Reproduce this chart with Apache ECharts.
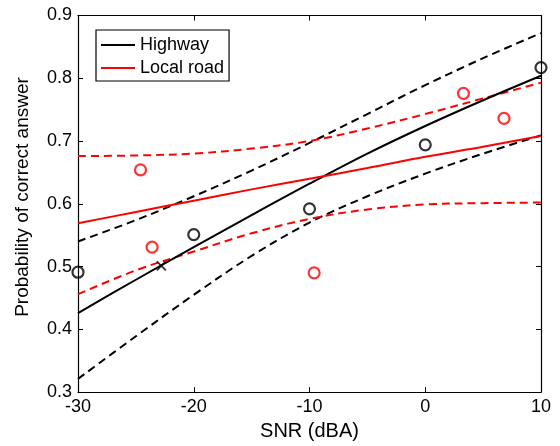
<!DOCTYPE html>
<html>
<head>
<meta charset="utf-8">
<script src="https://cdn.jsdelivr.net/npm/echarts@6/dist/echarts.min.js"></script>
<style>
  html, body { margin: 0; padding: 0; background: #fff; }
  #chart { width: 560px; height: 446px; }
</style>
</head>
<body>
<div id="chart"></div>
<script>
// SNR grid (dBA) at which the fitted curves are sampled
const snrGrid = [-30, -25, -20, -15, -10, -5, 0, 5, 10];

// Highway: fitted probability and its confidence bounds
const highwayFit   = [0.426, 0.479, 0.531, 0.582, 0.632, 0.680, 0.724, 0.765, 0.804];
const highwayUpper = [0.540, 0.574, 0.612, 0.653, 0.697, 0.743, 0.789, 0.832, 0.872];
const highwayLower = [0.321, 0.389, 0.455, 0.517, 0.570, 0.612, 0.648, 0.680, 0.709];

// Local road: fitted probability and its confidence bounds
const localFit   = [0.569, 0.587, 0.605, 0.623, 0.640, 0.657, 0.675, 0.691, 0.708];
const localUpper = [0.676, 0.677, 0.680, 0.688, 0.700, 0.720, 0.743, 0.768, 0.793];
const localLower = [0.456, 0.494, 0.524, 0.553, 0.576, 0.591, 0.599, 0.601, 0.602];

// Observed proportions
const highwaySnr  = [-30, -20, -10, 0, 10];
const highwayProb = [0.491, 0.551, 0.592, 0.694, 0.817];
const localSnr    = [-24.6, -23.6, -9.6, 3.3, 6.8];
const localProb   = [0.654, 0.531, 0.490, 0.776, 0.736];

// 50 % threshold of the highway fit
const thresholdSnr  = [-22.8];
const thresholdProb = [0.501];

// Axis settings
const xTicks = { min: -30, max: 10, step: 10 };
const yTicks = { min: 0.3, max: 0.9, step: 0.1 };

const FONT = 'Liberation Sans, Arial, Helvetica, sans-serif';
const zip = (xs, ys) => xs.map((x, i) => [x, ys[i]]);

function curve(name, xs, ys, color, dashed) {
  return {
    name: name,
    type: 'line',
    data: zip(xs, ys),
    smooth: 0.35,
    symbol: 'none',
    silent: true,
    lineStyle: { color: color, width: 2, type: dashed ? [8, 5] : 'solid' },
    itemStyle: { color: color },
    z: dashed ? 2 : 3
  };
}

function markers(name, xs, ys, color) {
  return {
    name: name,
    type: 'scatter',
    data: zip(xs, ys),
    symbol: 'circle',
    symbolSize: 11,
    silent: true,
    itemStyle: { color: 'rgba(0,0,0,0)', borderColor: color, borderWidth: 2.2 },
    z: 4
  };
}

const axisCommon = {
  type: 'value',
  axisLine: { show: true, onZero: false, lineStyle: { color: '#000', width: 1.2 } },
  axisTick: { show: true, inside: true, length: 5, lineStyle: { color: '#000', width: 1 } },
  splitLine: { show: false }
};

const chart = echarts.init(document.getElementById('chart'), null, { renderer: 'canvas' });
chart.setOption({
  animation: false,
  backgroundColor: '#fff',
  grid: { left: 78, right: 19, top: 15.5, bottom: 52.5 },
  xAxis: [
    Object.assign({}, axisCommon, {
      position: 'bottom', min: xTicks.min, max: xTicks.max, interval: xTicks.step,
      axisLabel: { show: true, margin: 6, color: '#000', fontSize: 18, fontFamily: FONT },
      name: 'SNR (dBA)', nameLocation: 'middle', nameGap: 24,
      nameTextStyle: { color: '#000', fontSize: 20, fontFamily: FONT }
    }),
    Object.assign({}, axisCommon, {
      position: 'top', min: xTicks.min, max: xTicks.max, interval: xTicks.step,
      axisLabel: { show: false }
    })
  ],
  yAxis: [
    Object.assign({}, axisCommon, {
      position: 'left', min: yTicks.min, max: yTicks.max, interval: yTicks.step,
      axisLabel: { show: true, margin: 6, color: '#000', fontSize: 18, fontFamily: FONT,
        formatter: v => v.toFixed(1) }
    }),
    Object.assign({}, axisCommon, {
      position: 'right', min: yTicks.min, max: yTicks.max, interval: yTicks.step,
      axisLabel: { show: false }
    })
  ],
  legend: {
    orient: 'vertical',
    left: 96, top: 30,
    padding: [6, 5, 4, 5],
    itemWidth: 34, itemHeight: 2, itemGap: 5,
    backgroundColor: '#fff',
    borderColor: '#000', borderWidth: 1.2, borderRadius: 0,
    data: [{ name: 'Highway', icon: 'rect' }, { name: 'Local road', icon: 'rect' }],
    textStyle: { color: '#000', fontSize: 18, fontFamily: FONT, lineHeight: 18 },
    selectedMode: false
  },
  graphic: [{
    type: 'text',
    x: 23, y: 197,
    rotation: Math.PI / 2,
    style: {
      text: 'Probability of correct answer',
      fill: '#000', font: '19px ' + FONT,
      align: 'center', verticalAlign: 'middle'
    }
  }],
  series: [
    curve('Highway', snrGrid, highwayFit, '#000', false),
    curve('Local road', snrGrid, localFit, '#ff0000', false),
    curve('Highway upper', snrGrid, highwayUpper, '#000', true),
    curve('Highway lower', snrGrid, highwayLower, '#000', true),
    curve('Local road upper', snrGrid, localUpper, '#ff0000', true),
    curve('Local road lower', snrGrid, localLower, '#ff0000', true),
    markers('Highway data', highwaySnr, highwayProb, '#000'),
    markers('Local road data', localSnr, localProb, '#ff0000'),
    {
      name: 'Threshold',
      type: 'scatter',
      data: zip(thresholdSnr, thresholdProb),
      symbol: 'path://M0,0L10,10M10,0L0,10',
      symbolSize: 9,
      silent: true,
      itemStyle: { color: 'rgba(0,0,0,0)', borderColor: '#000', borderWidth: 1.8 },
      z: 5
    }
  ]
});
</script>
</body>
</html>
